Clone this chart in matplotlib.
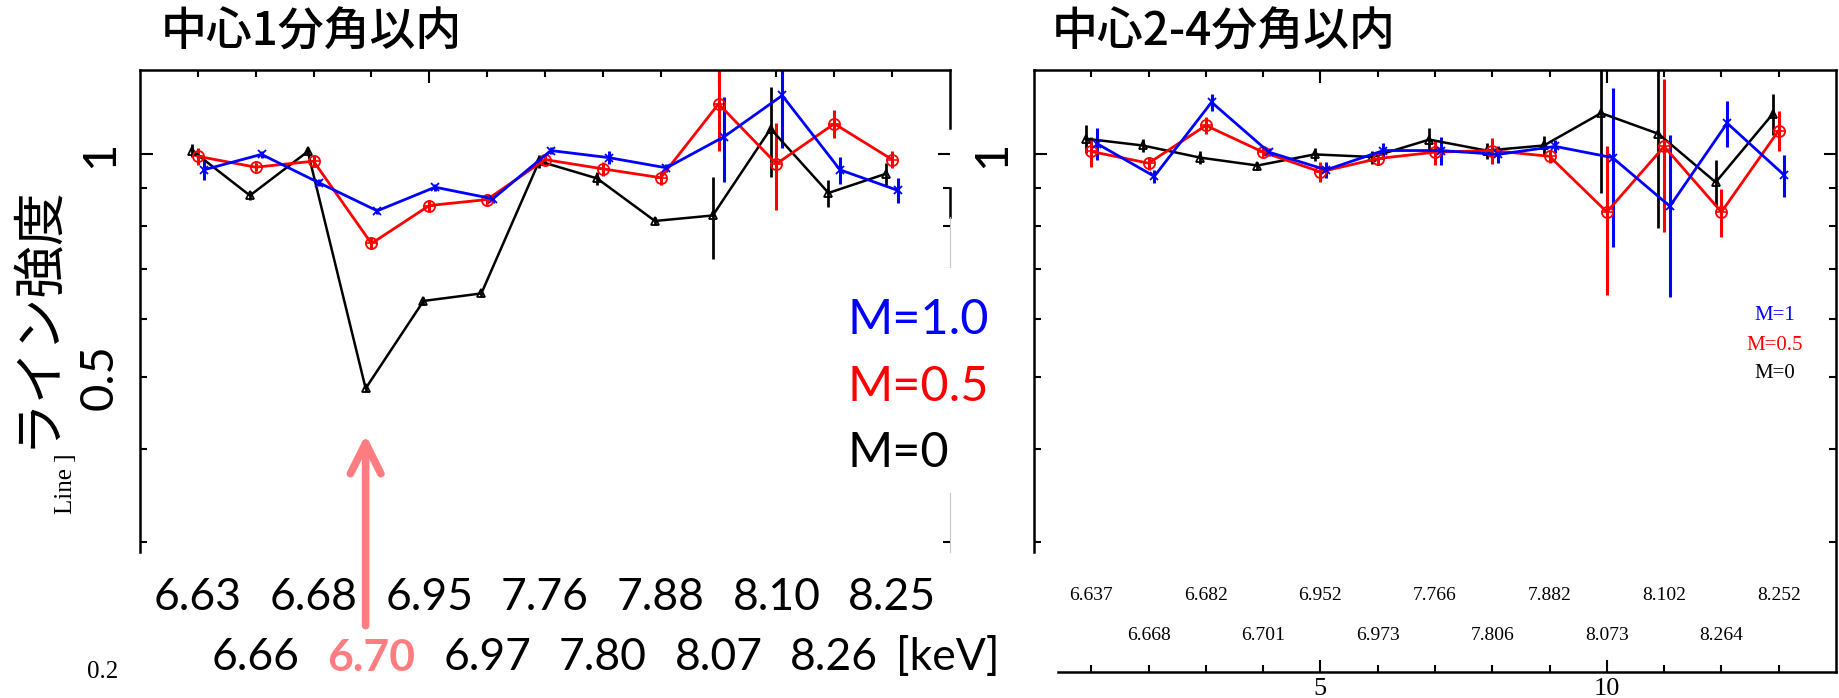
import matplotlib
matplotlib.use('Agg')
import matplotlib.pyplot as plt
from matplotlib.ticker import FixedLocator, NullFormatter, FixedFormatter
from matplotlib.transforms import blended_transform_factory
from matplotlib.patches import Rectangle

W, H, DPI = 1839, 698, 100

# line bins (same order in both panels)
bins = [1, 2, 3, 4, 5, 6, 7, 8, 9, 10, 11, 12, 13]
lines_in = ['6.63', '6.66', '6.68', '6.70', '6.95', '6.97', '7.76',
            '7.80', '7.88', '8.07', '8.10', '8.26', '8.25']
lines_out = ['6.637', '6.668', '6.682', '6.701', '6.952', '6.973', '7.766',
             '7.806', '7.882', '8.073', '8.102', '8.264', '8.252']

# within 1 arcmin
m0_in = [1.012, 0.880, 1.009, 0.483, 0.634, 0.649, 0.979, 0.928, 0.813, 0.827, 1.083, 0.887, 0.942]
m0_in_err = [0.02, 0.012, 0.012, 0.006, 0.008, 0.008, 0.02, 0.02, 0.01, 0.105, 0.15, 0.037, 0.032]
m05_in = [0.994, 0.961, 0.979, 0.758, 0.853, 0.869, 0.984, 0.956, 0.930, 1.170, 0.971, 1.100, 0.984]
m05_in_err = [0.025, 0.012, 0.015, 0.012, 0.015, 0.012, 0.015, 0.02, 0.02, 0.16, 0.13, 0.047, 0.025]
m1_in = [0.953, 1.000, 0.915, 0.839, 0.903, 0.871, 1.012, 0.990, 0.959, 1.057, 1.201, 0.953, 0.894]
m1_in_err = [0.03, 0.01, 0.01, 0.008, 0.01, 0.01, 0.012, 0.02, 0.012, 0.14, 0.18, 0.04, 0.035]

# 2-4 arcmin
m0_out = [1.050, 1.028, 0.990, 0.966, 1.000, 0.992, 1.047, 1.012, 1.028, 1.137, 1.066, 0.917, 1.135]
m0_out_err = [0.045, 0.02, 0.02, 0.012, 0.02, 0.02, 0.04, 0.025, 0.03, 0.25, 0.27, 0.065, 0.073]
m05_out = [1.009, 0.973, 1.094, 1.007, 0.947, 0.987, 1.007, 1.012, 0.994, 0.836, 1.025, 0.836, 1.077]
m05_out_err = [0.046, 0.02, 0.03, 0.012, 0.03, 0.02, 0.04, 0.04, 0.02, 0.19, 0.24, 0.063, 0.067]
m1_out = [1.034, 0.934, 1.176, 1.007, 0.953, 1.012, 1.012, 1.000, 1.025, 0.990, 0.851, 1.102, 0.937]
m1_out_err = [0.05, 0.02, 0.03, 0.012, 0.025, 0.025, 0.045, 0.025, 0.02, 0.24, 0.21, 0.08, 0.06]

JP = ['Noto Sans CJK JP', 'DejaVu Sans']
SANS = ['Lato', 'DejaVu Sans']
SERIF = ['Liberation Serif', 'DejaVu Serif']
SALMON = '#FF7C80'


def fx(x):
    return x / W


def fy(y):
    return 1 - y / H


def draw_series(ax, vals, errs, color, dx, marker, ms, lw):
    xs = [b + dx for b in bins]
    ax.errorbar(xs, vals, yerr=errs, color=color, lw=lw, elinewidth=lw * 1.1,
                capsize=0, marker=marker, ms=ms, mfc='none', mec=color, mew=1.3)


def draw_panel(ax, m0, m0e, m05, m05e, m1, m1e):
    draw_series(ax, m0, m0e, 'black', -0.1, '^', 6, 1.8)
    draw_series(ax, m05, m05e, 'red', 0.0, 'o', 8, 2.0)
    ax.plot(bins, m05, ls='none', marker='+', ms=8, mec='red', mew=1.2)
    draw_series(ax, m1, m1e, 'blue', 0.1, 'x', 6, 2.0)


fig = plt.figure(figsize=(W / DPI, H / DPI), dpi=DPI)
ax1 = fig.add_axes([fx(140), fy(672), 810 / W, 602 / H])
ax2 = fig.add_axes([fx(1034), fy(672), 802 / W, 602 / H])

for ax in (ax1, ax2):
    ax.set_yscale('log')
    ax.set_ylim(0.2, 1.3)
    ax.set_xlim(0, 14)
    ax.xaxis.set_major_locator(FixedLocator([5, 10]))
    ax.xaxis.set_minor_locator(FixedLocator([b for b in bins if b not in (5, 10)]))
    ax.yaxis.set_major_locator(FixedLocator([1.0]))
    ax.yaxis.set_minor_locator(FixedLocator([0.3, 0.4, 0.5, 0.6, 0.7, 0.8, 0.9]))
    ax.yaxis.set_major_formatter(NullFormatter())
    ax.yaxis.set_minor_formatter(NullFormatter())
    ax.xaxis.set_minor_formatter(NullFormatter())
    ax.tick_params(which='both', direction='in', width=1.5, top=True, right=True)
    ax.tick_params(which='major', length=9)
    ax.tick_params(which='minor', length=5)
    for s in ax.spines.values():
        s.set_linewidth(1.8)
    ax.spines['left'].set_bounds(0.29, 1.3)

draw_panel(ax1, m0_in, m0_in_err, m05_in, m05_in_err, m1_in, m1_in_err)
draw_panel(ax2, m0_out, m0_out_err, m05_out, m05_out_err, m1_out, m1_out_err)

# left panel: lower part of the frame is hidden under the big labels
ax1.spines['bottom'].set_visible(False)
ax1.spines['right'].set_visible(False)
ax1.tick_params(which='both', bottom=False, labelbottom=False)
edge = blended_transform_factory(ax1.transAxes, ax1.transData)
for lo, hi, col, lw in [(1.087, 1.3, 'black', 1.8), (0.822, 0.9, 'black', 1.8),
                        (0.7, 0.822, '#c8c8c8', 0.8), (0.29, 0.349, '#c8c8c8', 0.8)]:
    ax1.plot([1.0, 1.0], [lo, hi], color=col, lw=lw, transform=edge, clip_on=False)

# right panel axis
ax2.spines['bottom'].set_bounds(0.42, 14)
ax2.xaxis.set_major_formatter(FixedFormatter(['5', '10']))
ax2.tick_params(axis='x', which='major', pad=4, labelsize=19)
for t in ax2.get_xticklabels():
    t.set_family(SERIF)

# titles and y label
fig.text(fx(161), fy(32), '中心1分角以内', family=JP, fontsize=33, weight='medium', ha='left', va='center')
fig.text(fx(1052), fy(32), '中心2-4分角以内', family=JP, fontsize=33, weight='medium', ha='left', va='center')
fig.text(fx(37), fy(316), 'ライン強度', family=JP, fontsize=38, rotation=90, ha='center', va='center')
fig.text(fx(66), fy(484), 'Line ]', family=SERIF, fontsize=18, rotation=90, ha='center', va='center')

# y values written beside the axes
yl = blended_transform_factory(fig.transFigure, ax1.transData)
ax1.text(fx(100), 1.0, '1', transform=yl, family=SANS, fontsize=34, rotation=90, ha='center', va='center')
ax1.text(fx(100), 0.5, '0.5', transform=yl, family=SANS, fontsize=34, rotation=90, ha='center', va='center')
ax1.text(fx(103), 0.2, '0.2', transform=yl, family=SERIF, fontsize=18, ha='center', va='center')
ax2.text(fx(992), 1.0, '1', transform=yl, family=SANS, fontsize=34, rotation=90, ha='center', va='center')

# line energies under the left panel
row = blended_transform_factory(ax1.transData, fig.transFigure)
for b, lab in zip(bins[0::2], lines_in[0::2]):
    ax1.text(b, fy(598), lab, transform=row, family=SANS, fontsize=32, ha='center', va='center')
for b, lab in zip(bins[1::2], lines_in[1::2]):
    hot = lab == '6.70'
    ax1.text(b, fy(658), lab, transform=row, family=SANS, fontsize=32, ha='center', va='center',
             color=SALMON if hot else 'black', weight='bold' if hot else 'normal')
fig.text(fx(896), fy(658), '[keV]', family=SANS, fontsize=32, ha='left', va='center')

# line energies under the right panel
row2 = blended_transform_factory(ax2.transData, fig.transFigure)
for b, lab in zip(bins[0::2], lines_out[0::2]):
    ax2.text(b, fy(595), lab, transform=row2, family=SERIF, fontsize=14, ha='center', va='center')
for b, lab in zip(bins[1::2], lines_out[1::2]):
    ax2.text(b, fy(635), lab, transform=row2, family=SERIF, fontsize=14, ha='center', va='center')

# arrow to the Fe XXV 6.70 keV dip
ax1.annotate('', xy=(bins[3] - 0.1, 0.422), xytext=(bins[3] - 0.1, 0.229),
             arrowprops=dict(arrowstyle='->,head_length=2.2,head_width=1.1', lw=5.5,
                             color=SALMON, capstyle='round', joinstyle='round'),
             annotation_clip=False)

# model labels
fig.patches.append(Rectangle((fx(900), fy(493)), 100 / W, 225 / H, transform=fig.transFigure,
                             facecolor='white', edgecolor='none', zorder=5))
for y, lab, col in [(320, 'M=1.0', 'blue'), (387, 'M=0.5', 'red'), (453, 'M=0', 'black')]:
    fig.text(fx(848), fy(y), lab, family=SANS, fontsize=35, color=col, ha='left', va='center', zorder=6)
for y, lab, col in [(316, 'M=1', 'blue'), (345, 'M=0.5', 'red'), (374, 'M=0', 'black')]:
    fig.text(fx(1775), fy(y), lab, family=SERIF, fontsize=15, color=col, ha='center', va='center', zorder=6)

fig.savefig('out.png', dpi=DPI)
